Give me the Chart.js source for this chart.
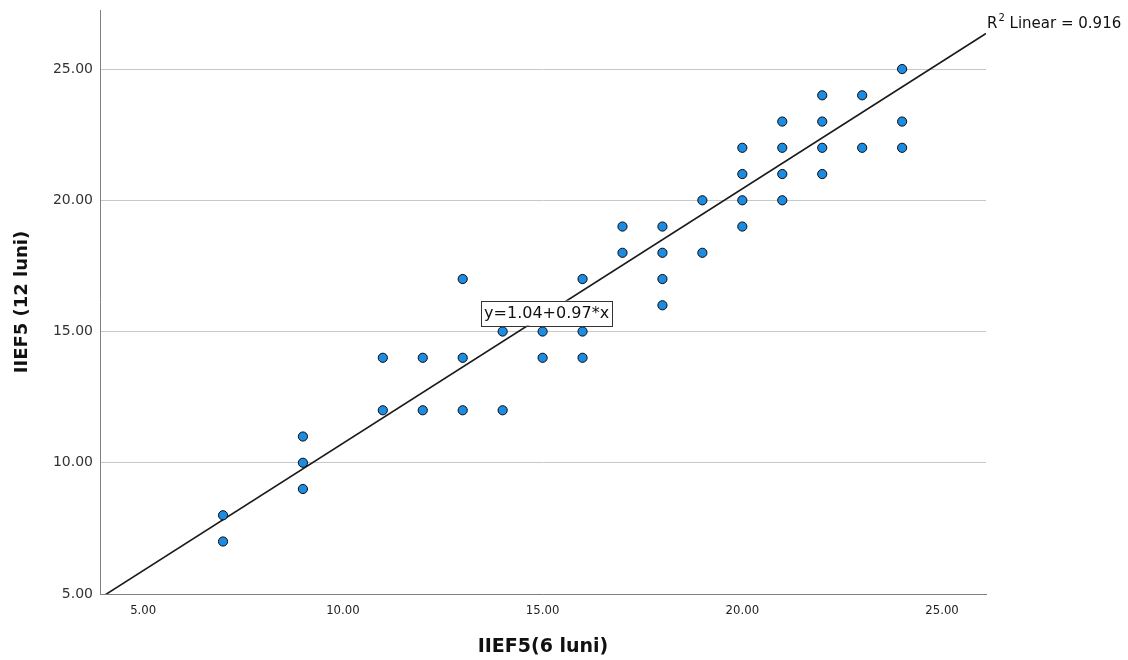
<!DOCTYPE html>
<html>
<head>
<meta charset="utf-8">
<script src="https://cdn.jsdelivr.net/npm/chart.js@4.4.1/dist/chart.umd.min.js"></script>
<style>
html,body{margin:0;padding:0;background:#fff;}
#wrap{width:1128px;height:660px;}
</style>
</head>
<body>
<div id="wrap"><canvas id="c" width="1128" height="660"></canvas></div>
<script>
// ---- data ----
const xValues = [7,7, 9,9,9, 11,11, 12,12, 13,13,13, 14,14, 15,15, 16,16,16, 17,17, 18,18,18,18, 19,19, 20,20,20,20, 21,21,21,21, 22,22,22,22, 23,23, 24,24,24];
const yValues = [8,7, 11,10,9, 14,12, 14,12, 17,14,12, 15,12, 15,14, 17,15,14, 19,18, 19,18,17,16, 20,18, 22,21,20,19, 23,22,21,20, 24,23,22,21, 24,22, 25,23,22];
const xTicks = [5,10,15,20,25];
const yTicks = [5,10,15,20,25];
const fitIntercept = 1.04;
const fitSlope = 0.97;
const rSquared = 0.916;
const xTitle = 'IIEF5(6 luni)';
const yTitle = 'IIEF5 (12 luni)';

const X_MIN = 3.92, X_MAX = 26.1, Y_MIN = 5, Y_MAX = 27.25;

const points = xValues.map((x,i)=>({x:x, y:yValues[i]}));
const fitLine = [X_MIN, X_MAX].map(x=>({x:x, y:fitIntercept + fitSlope*x}));
const eqText = 'y=' + fitIntercept.toFixed(2) + '+' + fitSlope.toFixed(2) + '*x';

const overlay = {
  id:'overlay',
  afterDraw(chart){
    const ctx = chart.ctx, ca = chart.chartArea;
    const xs = chart.scales.x, ys = chart.scales.y;
    ctx.save();
    // axis titles
    ctx.fillStyle = '#111';
    ctx.textAlign = 'center';
    ctx.textBaseline = 'middle';
    ctx.font = 'bold 19px "DejaVu Sans", sans-serif';
    ctx.fillText(xTitle, (ca.left+ca.right)/2, 647);
    ctx.save();
    ctx.translate(22, 302);
    ctx.rotate(-Math.PI/2);
    ctx.font = 'bold 18px "DejaVu Sans", sans-serif';
    ctx.fillText(yTitle, 0, 0);
    ctx.restore();

    // equation label, anchored in data space
    ctx.font = '16px "DejaVu Sans", sans-serif';
    const w = ctx.measureText(eqText).width + 6;
    const h = 25;
    const cx = xs.getPixelForValue(15.1), cy = ys.getPixelForValue(15.7);
    ctx.fillStyle = '#fff';
    ctx.fillRect(cx-w/2, cy-h/2, w, h);
    ctx.strokeStyle = '#333';
    ctx.lineWidth = 1;
    ctx.strokeRect(Math.round(cx-w/2)+0.5, Math.round(cy-h/2)+0.5, Math.round(w), h);
    ctx.fillStyle = '#111';
    ctx.fillText(eqText, cx, cy+1);

    // R squared label
    ctx.textAlign = 'left';
    ctx.textBaseline = 'alphabetic';
    let tx = 987, ty = 28;
    ctx.font = '15px "DejaVu Sans", sans-serif';
    ctx.fillText('R', tx, ty);
    tx += ctx.measureText('R').width + 1;
    ctx.font = '10px "DejaVu Sans", sans-serif';
    ctx.fillText('2', tx, ty-7);
    tx += ctx.measureText('2').width;
    ctx.font = '15px "DejaVu Sans", sans-serif';
    ctx.fillText(' Linear = ' + rSquared.toFixed(3), tx, ty);
    ctx.restore();
  }
};

new Chart(document.getElementById('c'), {
  type:'scatter',
  data:{
    datasets:[
      {
        type:'line',
        data: fitLine,
        borderColor:'#1a1a1a',
        borderWidth:1.6,
        pointRadius:0,
        fill:false,
        order:2
      },
      {
        data: points,
        backgroundColor:'#1c8ce3',
        borderColor:'#0a0a0a',
        borderWidth:1,
        pointRadius:4.6,
        order:1
      }
    ]
  },
  options:{
    responsive:false,
    animation:false,
    events:[],
    layout:{padding:{left:0, top:10, right:142, bottom:0}},
    plugins:{legend:{display:false}, tooltip:{enabled:false}},
    scales:{
      x:{
        type:'linear', min:X_MIN, max:X_MAX,
        afterBuildTicks(s){ s.ticks = xTicks.map(v=>({value:v})); },
        afterFit(s){ s.height = 66; s.paddingLeft = 0; s.paddingRight = 0; },
        grid:{display:false, drawTicks:false},
        border:{display:true, color:'#808080', width:1},
        ticks:{
          padding:9,
          color:'#222',
          font:{family:'"DejaVu Sans Condensed", "Liberation Sans Narrow", sans-serif', size:13},
          callback:v=>Number(v).toFixed(2),
          maxRotation:0
        }
      },
      y:{
        type:'linear', min:Y_MIN, max:Y_MAX,
        afterBuildTicks(s){ s.ticks = yTicks.map(v=>({value:v})); },
        afterFit(s){ s.width = 100; s.paddingTop = 0; s.paddingBottom = 0; },
        grid:{color:'#c8c8c8', lineWidth:1, drawTicks:false},
        border:{display:true, color:'#808080', width:1},
        ticks:{
          padding:7,
          color:'#333',
          font:{family:'"DejaVu Sans", sans-serif', size:14},
          callback:v=>Number(v).toFixed(2)
        }
      }
    }
  },
  plugins:[overlay]
});
</script>
</body>
</html>
